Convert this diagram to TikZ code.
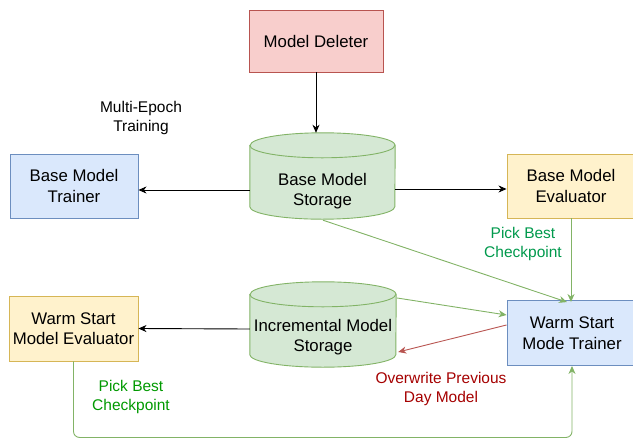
\documentclass[tikz,border=0pt]{standalone}
\usepackage{fontspec}
\setmainfont{Liberation Sans}
\usetikzlibrary{arrows.meta,calc}
\definecolor{pinkF}{HTML}{F8CECC}\definecolor{pinkD}{HTML}{B85450}
\definecolor{blueF}{HTML}{DAE8FC}\definecolor{blueD}{HTML}{6C8EBF}
\definecolor{yelF}{HTML}{FFF2CC}\definecolor{yelD}{HTML}{D6B656}
\definecolor{grnF}{HTML}{D5E8D4}\definecolor{grnD}{HTML}{82B366}
\definecolor{pbA}{HTML}{00994C}\definecolor{pbB}{HTML}{009900}
\definecolor{ovr}{HTML}{A50000}
\begin{document}
\begin{tikzpicture}[x=1pt,y=-1pt,
  box/.style={draw,line width=0.9pt,minimum width=128pt,minimum height=64pt,align=center,inner sep=0pt,font=\fontsize{16.8}{20.5}\selectfont},
  pinkbox/.style={fill=pinkF,draw=pinkD},
  bluebox/.style={fill=blueF,draw=blueD},
  yelbox/.style={fill=yelF,draw=yelD},
  cylbox/.style={draw=none,inner sep=0pt},
  cyl/.style={fill=grnF,draw=grnD,line width=0.9pt},
  ctext/.style={align=center,inner sep=0pt,font=\fontsize{16.8}{20.5}\selectfont},
  lbl/.style={align=center,inner sep=0pt,font=\fontsize{15.5}{19}\selectfont},
  arr/.style={line width=0.9pt,-{Stealth[length=8pt,width=7pt,inset=2.5pt]}},
  garr/.style={arr,draw=grnD},
  rarr/.style={arr,draw=pinkD},
]
\clip (0,0) rectangle (633,440);
% boxes
\node[box,pinkbox,minimum width=134pt,minimum height=62pt] (del) at (316,41) {Model Deleter};
\node[box,bluebox] (bmt) at (74,186) {Base Model\\Trainer};
\node[box,yelbox] (bme) at (571,186) {Base Model\\Evaluator};
\node[box,bluebox,minimum width=130pt,minimum height=65pt] (wst) at (572,333) {Warm Start\\Mode Trainer};
\node[box,yelbox,minimum width=129pt,minimum height=65pt] (wse) at (73.5,328.5) {Warm Start\\Model Evaluator};
% cylinders
\node[cylbox,minimum width=145pt,minimum height=86pt] (bms) at (322.5,176) {};
\draw[cyl] ([yshift=-12.5pt]bms.north west) -- ([yshift=12.5pt]bms.south west)
  arc[start angle=180,end angle=360,x radius=72.5pt,y radius=12.5pt]
  -- ([yshift=-12.5pt]bms.north east)
  arc[start angle=0,end angle=180,x radius=72.5pt,y radius=12.5pt] -- cycle;
\draw[cyl,fill=none] ([yshift=-12.5pt]bms.north west) arc[start angle=180,end angle=360,x radius=72.5pt,y radius=12.5pt];
\node[ctext] (bmst) at (322.5,191) {Base Model\\Storage};
\node[cylbox,minimum width=146pt,minimum height=85pt] (ims) at (323,324.5) {};
\draw[cyl] ([yshift=-12.5pt]ims.north west) -- ([yshift=12.5pt]ims.south west)
  arc[start angle=180,end angle=360,x radius=73pt,y radius=12.5pt]
  -- ([yshift=-12.5pt]ims.north east)
  arc[start angle=0,end angle=180,x radius=73pt,y radius=12.5pt] -- cycle;
\draw[cyl,fill=none] ([yshift=-12.5pt]ims.north west) arc[start angle=180,end angle=360,x radius=73pt,y radius=12.5pt];
\node[ctext] (imst) at (323,337) {Incremental Model\\Storage};
% labels
\node[lbl] (mep) at (141,118) {Multi-Epoch\\Training};
\node[lbl,text=pbA] (pb1) at (523,244) {Pick Best\\Checkpoint};
\node[lbl,text=pbB] (pb2) at (131,397) {Pick Best\\Checkpoint};
\node[lbl,text=ovr] (ow) at (441,389) {Overwrite Previous\\Day Model};
% connectors
\draw[arr] (del.south) -- (del.south |- bms.north);
\draw[arr] ([yshift=-14pt]bms.west) -- ([yshift=-4pt]bmt.east);
\draw[arr] ([yshift=-13pt]bms.east) -- ([yshift=-3pt]bme.west);
\draw[garr] ([xshift=0.5pt,yshift=-1pt]bms.south) -- ([xshift=-5pt,yshift=-2pt]wst.north);
\draw[garr] (bme.south) -- ([yshift=-2pt]bme.south |- wst.north);
\draw[garr] ([xshift=1pt,yshift=26.5pt]ims.east) -- ([yshift=18pt]wst.west);
\draw[rarr] ([yshift=8pt]wst.west) -- ([xshift=2pt,yshift=-27.5pt]ims.east);
\draw[arr] ([yshift=-4.5pt]ims.west) -- (wse.east);
\draw[garr,rounded corners=6pt] (wse.south) -- ++(0,76) -| (wst.south);
\end{tikzpicture}
\end{document}
